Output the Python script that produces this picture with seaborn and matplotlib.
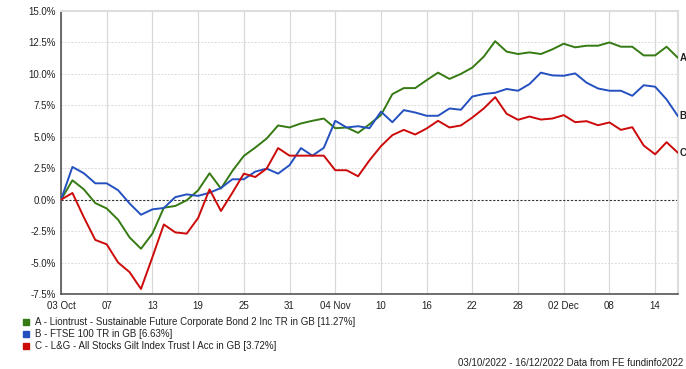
import numpy as np
import pandas as pd
import matplotlib
matplotlib.use("Agg")
import matplotlib.pyplot as plt
from matplotlib.patches import Rectangle
import seaborn as sns

# ---------------------------------------------------------------------------
# Data: cumulative performance (%) on each trading day, 03/10/2022 - 16/12/2022
# ---------------------------------------------------------------------------
liontrust = [0.0, 1.54, 0.82, -0.27, -0.7, -1.6, -3.0, -3.9, -2.7, -0.64,
             -0.5, -0.05, 0.74, 2.1, 0.88, 2.28, 3.48, 4.14, 4.86, 5.9,
             5.74, 6.06, 6.27, 6.45, 5.68, 5.74, 5.31, 6.0, 6.72, 8.39,
             8.87, 8.87, 9.5, 10.1, 9.6, 10.0, 10.5, 11.37, 12.6, 11.77,
             11.58, 11.71, 11.58, 11.95, 12.4, 12.11, 12.24, 12.24, 12.5, 12.16,
             12.16, 11.47, 11.47, 12.16, 11.27]
ftse100 = [0.0, 2.6, 2.1, 1.3, 1.3, 0.75, -0.3, -1.2, -0.77, -0.66,
           0.2, 0.42, 0.3, 0.55, 0.93, 1.62, 1.62, 2.23, 2.47, 2.07,
           2.74, 4.1, 3.5, 4.12, 6.27, 5.74, 5.84, 5.68, 7.0, 6.16,
           7.12, 6.93, 6.67, 6.67, 7.25, 7.15, 8.2, 8.4, 8.5, 8.8,
           8.66, 9.19, 10.1, 9.88, 9.85, 10.04, 9.3, 8.84, 8.66, 8.66,
           8.26, 9.1, 8.98, 7.97, 6.63]
gilt = [0.0, 0.53, -1.4, -3.2, -3.55, -5.0, -5.76, -7.1, -4.57, -1.97,
        -2.6, -2.7, -1.46, 0.82, -0.9, 0.55, 2.07, 1.8, 2.47, 4.1,
        3.5, 3.5, 3.5, 3.5, 2.34, 2.34, 1.86, 3.13, 4.25, 5.13,
        5.55, 5.18, 5.66, 6.27, 5.74, 5.9, 6.53, 7.25, 8.15, 6.83,
        6.35, 6.61, 6.37, 6.45, 6.72, 6.16, 6.24, 5.92, 6.14, 5.55,
        5.76, 4.3, 3.61, 4.57, 3.72]

series_names = ["A", "B", "C"]
legend_labels = [
    "A - Liontrust - Sustainable Future Corporate Bond 2 Inc TR in GB [11.27%]",
    "B - FTSE 100 TR in GB [6.63%]",
    "C - L&G - All Stocks Gilt Index Trust I Acc in GB [3.72%]",
]
x_tick_labels = ["03 Oct", "07", "13", "19", "25", "31", "04 Nov", "10",
                 "16", "22", "28", "02 Dec", "08", "14"]
y_ticks = [-7.5, -5.0, -2.5, 0.0, 2.5, 5.0, 7.5, 10.0, 12.5, 15.0]
footer = "03/10/2022 - 16/12/2022 Data from FE fundinfo2022"

COLORS = ["#357A12", "#2450C0", "#CC0A0A"]
TEXT_COLOR = "#222222"

sns.set_theme(style="white")
plt.rcParams["font.family"] = ["Liberation Sans", "DejaVu Sans"]
plt.rcParams["font.size"] = 7

days = np.arange(len(liontrust))
df = pd.DataFrame({"day": np.tile(days, 3),
                   "value": liontrust + ftse100 + gilt,
                   "series": np.repeat(series_names, len(days))})

fig = plt.figure(figsize=(6.86, 3.69), dpi=100)
ax = fig.add_axes([61 / 686, 1 - 294 / 369, 617 / 686, 283 / 369])

# grid
for t in range(0, 53, 4):
    ax.axvline(t, color="#D8D8D8", linewidth=0.9, zorder=0)
for yv in y_ticks:
    if yv != 0:
        ax.axhline(yv, color="#D0D0D0", linewidth=0.6, linestyle=(0, (2, 2)), zorder=0)
ax.axhline(0, color="#333333", linewidth=0.8, linestyle=(0, (2, 1.5)), zorder=1)

sns.lineplot(data=df, x="day", y="value", hue="series", palette=COLORS,
             linewidth=1.4, legend=False, ax=ax, zorder=3)

ax.set_xlim(0, len(days) - 1)
ax.set_ylim(-7.5, 15.0)
ax.set_xticks(range(0, 53, 4))
ax.set_xticklabels(x_tick_labels)
ax.set_yticks(y_ticks)
ax.set_yticklabels([f"{v:.1f}%" for v in y_ticks])
ax.set_xlabel("")
ax.set_ylabel("")
ax.tick_params(axis="both", labelsize=7, colors=TEXT_COLOR, length=2, pad=2)
ax.tick_params(axis="x", direction="out", length=3)

for side in ["top", "right"]:
    ax.spines[side].set_color("#DDDDDD")
    ax.spines[side].set_linewidth(1.5)
for side in ["left", "bottom"]:
    ax.spines[side].set_color("#555555")
    ax.spines[side].set_linewidth(1.2)

# end labels
for name, vals in zip(series_names, [liontrust, ftse100, gilt]):
    ax.annotate(name, xy=(days[-1], vals[-1]), xytext=(1, 0),
                textcoords="offset points", va="center", ha="left",
                fontsize=7, fontweight="bold", color=TEXT_COLOR,
                annotation_clip=False)

# legend
for i, (label, color) in enumerate(zip(legend_labels, COLORS)):
    y = 1 - (322 + 12 * i) / 369
    fig.patches.append(Rectangle((23 / 686, y - 3 / 369), 6 / 686, 6 / 369,
                                 transform=fig.transFigure, color=color))
    fig.text(35 / 686, y, label, fontsize=7, color=TEXT_COLOR, va="center")

fig.text(683 / 686, 1 - 363 / 369, footer, fontsize=7, color=TEXT_COLOR,
         ha="right", va="center")

fig.savefig("out.png", dpi=100)
